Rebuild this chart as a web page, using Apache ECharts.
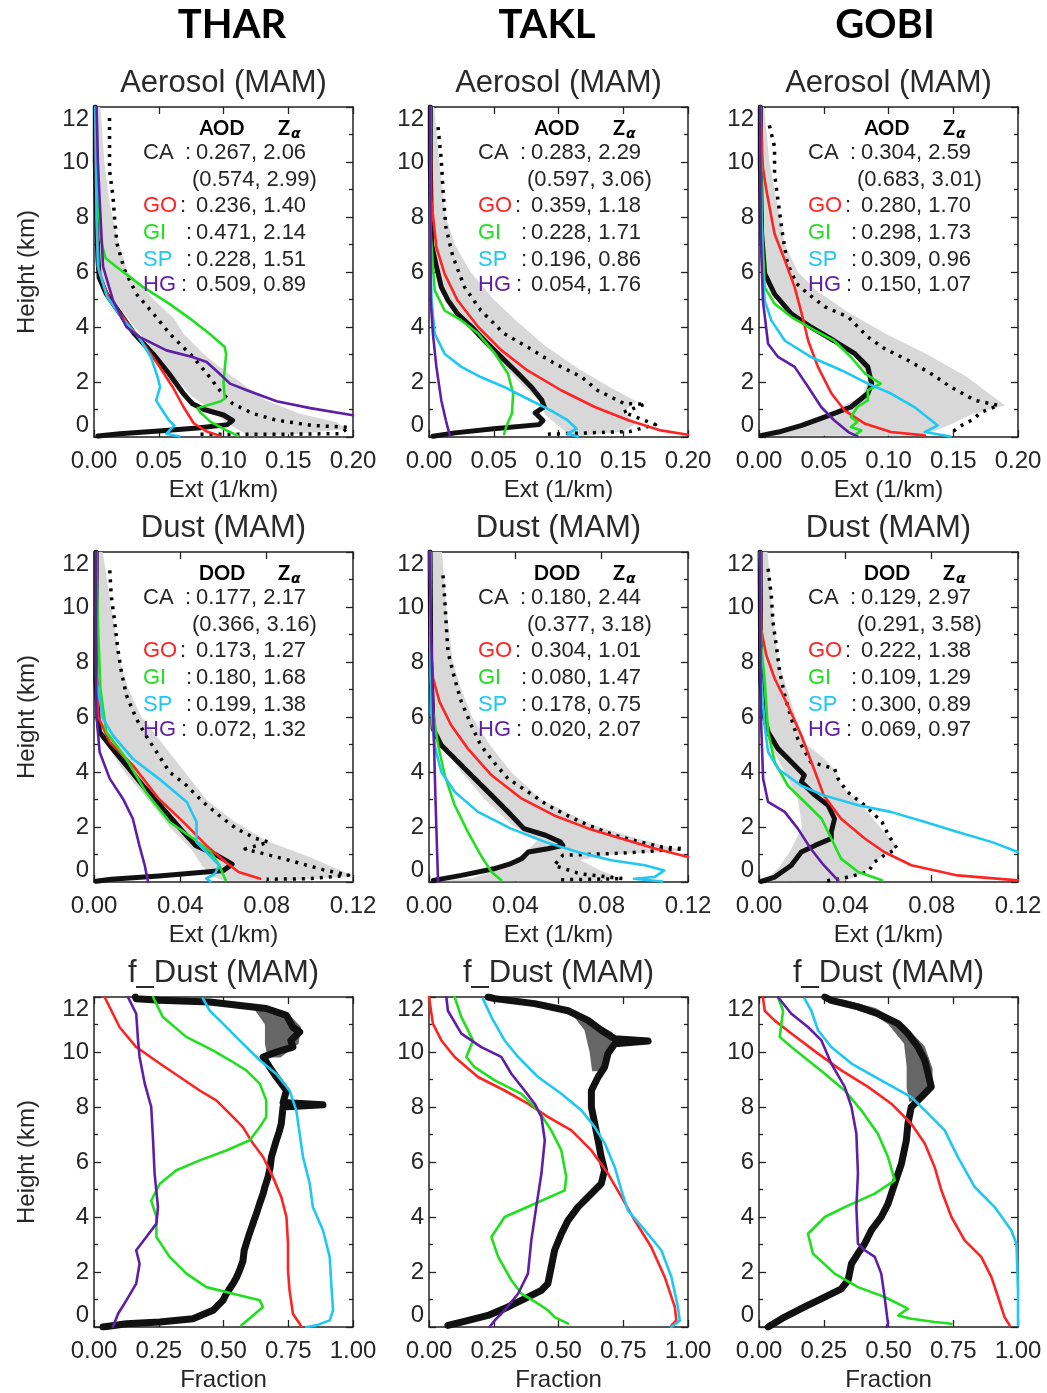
<!DOCTYPE html>
<html><head><meta charset="utf-8">
<script src="https://cdn.jsdelivr.net/npm/echarts@6/dist/echarts.min.js"></script>
<style>html,body{margin:0;padding:0;background:#fff}#c{width:1047px;height:1393px}</style>
</head><body><div id="c"></div>
<script>
// ---------- labels / ticks ----------
const SITES = ['THAR', 'TAKL', 'GOBI'];
const ROW_TITLES = ['Aerosol (MAM)', 'Dust (MAM)', 'f_Dust (MAM)'];
const X_NAMES = ['Ext (1/km)', 'Ext (1/km)', 'Fraction'];
const X_MAX = [0.2, 0.12, 1.0];
const X_INT = [0.05, 0.04, 0.25];
const Y_MIN = 0, Y_MAX = 12, Y_INT = 2;
const OD_LABELS = ['AOD', 'DOD'];
const ROW_NAMES = ['CA', '', 'GO', 'GI', 'SP', 'HG'];

// ---------- THAR aerosol ----------
const THAR_AER_CA = [[0.001,12],[0.001,10],[0.002,8],[0.003,6.5],[0.004,5.8],[0.0095,5.2],[0.020,4.5],[0.031,3.76],[0.0455,3.03],[0.058,2.3],[0.069,1.58],[0.076,1.21],[0.085,1.0],[0.1,0.8],[0.107,0.6],[0.103,0.45],[0.08,0.33],[0.05,0.22],[0.02,0.12],[0.003,0.04]];
const THAR_AER_GO = [[0.001,12],[0.002,8],[0.004,6],[0.012,5],[0.025,4.2],[0.038,3.4],[0.05,2.6],[0.061,1.8],[0.069,1.1],[0.077,0.5],[0.087,0.2],[0.097,0.05]];
const THAR_AER_GI = [[0.002,12],[0.003,9],[0.005,7.2],[0.009,6.5],[0.017,6.2],[0.038,5.45],[0.058,4.85],[0.076,4.24],[0.089,3.76],[0.101,3.27],[0.102,3.0],[0.1,2.0],[0.101,1.4],[0.098,1.3],[0.08,1.05],[0.082,0.9],[0.09,0.55],[0.102,0.25],[0.111,0.05]];
const THAR_AER_SP = [[0.001,12],[0.002,8],[0.003,6.2],[0.01,5.1],[0.022,4.3],[0.035,3.6],[0.044,2.9],[0.049,2.2],[0.051,1.82],[0.048,1.33],[0.051,1.1],[0.058,0.6],[0.062,0.42],[0.056,0.12],[0.066,0.02]];
const THAR_AER_HG = [[0.002,12],[0.003,10],[0.0044,8.6],[0.007,6.2],[0.0147,4.97],[0.025,4.0],[0.035,3.64],[0.056,3.15],[0.076,2.91],[0.087,2.73],[0.097,2.3],[0.105,1.94],[0.118,1.7],[0.141,1.3],[0.167,1.05],[0.2,0.79]];
const THAR_AER_DOT = [[0.012,11.6],[0.012,10.55],[0.012,9.7],[0.0147,8.73],[0.016,7.88],[0.0178,7.03],[0.0237,6.06],[0.0327,5.21],[0.0481,4.36],[0.0584,3.76],[0.0765,2.91],[0.0893,2.18],[0.097,1.7],[0.107,1.21],[0.123,0.85],[0.141,0.61],[0.169,0.42],[0.197,0.35],[0.19,0.12],[0.14,0.1],[0.08,0.1]];
const THAR_AER_HI = [[0.005,12],[0.008,10],[0.012,8.5],[0.018,7.2],[0.026,6.0],[0.046,5.0],[0.062,4.3],[0.069,3.76],[0.085,3.0],[0.097,2.55],[0.118,1.82],[0.133,1.33],[0.159,0.85],[0.187,0.55],[0.195,0.3],[0.16,0.12],[0.12,0.04]];
const THAR_AER_LO = [[0.001,12],[0.002,8],[0.003,6.5],[0.006,5.8],[0.015,5],[0.028,4.2],[0.045,3.2],[0.06,2.3],[0.075,1.5],[0.09,1.0],[0.1,0.6],[0.11,0.3],[0.12,0.05]];
const THAR_AER_TXT = ['0.267, 2.06','(0.574, 2.99)','0.236, 1.40','0.471, 2.14','0.228, 1.51','0.509, 0.89'];

// ---------- TAKL aerosol ----------
const TAKL_AER_CA = [[0.001,12],[0.001,10],[0.002,7.0],[0.0057,6.2],[0.0095,5.45],[0.0147,4.97],[0.022,4.48],[0.033,4.0],[0.043,3.5],[0.056,2.9],[0.069,2.3],[0.079,1.82],[0.087,1.35],[0.089,1.1],[0.082,0.88],[0.088,0.6],[0.085,0.45],[0.05,0.3],[0.02,0.15],[0.003,0.03]];
const TAKL_AER_GO = [[0.001,12],[0.0018,8.6],[0.0057,6.9],[0.012,5.94],[0.022,4.97],[0.038,4.0],[0.056,3.15],[0.076,2.42],[0.102,1.7],[0.128,1.09],[0.154,0.61],[0.179,0.24],[0.2,0.08]];
const TAKL_AER_GI = [[0.001,12],[0.001,9],[0.0013,7.4],[0.003,6.2],[0.0044,5.33],[0.012,4.6],[0.025,4.24],[0.038,3.76],[0.051,3.03],[0.061,2.3],[0.065,1.58],[0.064,0.85],[0.06,0.42],[0.058,0.1]];
const TAKL_AER_SP = [[0.001,12],[0.0013,6.2],[0.002,4.97],[0.0044,3.76],[0.012,3.03],[0.025,2.55],[0.04,2.18],[0.058,1.82],[0.076,1.39],[0.094,0.97],[0.107,0.61],[0.114,0.3],[0.107,0.12],[0.115,0.02]];
const TAKL_AER_HG = [[0.001,12],[0.0013,4.97],[0.003,3.76],[0.0057,2.55],[0.0095,1.33],[0.013,0.61],[0.016,0.06]];
const TAKL_AER_DOT = [[0.007,11.27],[0.0095,10.06],[0.011,8.85],[0.013,7.64],[0.0185,6.55],[0.0275,5.45],[0.04,4.6],[0.058,3.76],[0.076,3.27],[0.097,2.67],[0.118,2.18],[0.13,1.7],[0.151,1.21],[0.167,1.2],[0.15,0.9],[0.175,0.45],[0.155,0.2],[0.09,0.1]];
const TAKL_AER_HI = [[0.004,12],[0.008,10],[0.013,8],[0.02,7],[0.032,6],[0.05,5],[0.068,4.2],[0.09,3.3],[0.115,2.5],[0.14,1.8],[0.16,1.3],[0.15,0.9],[0.16,0.5],[0.15,0.2],[0.12,0.05]];
const TAKL_AER_LO = [[0.001,12],[0.002,8],[0.005,6],[0.012,5],[0.03,4],[0.05,3],[0.07,2],[0.085,1.3],[0.09,0.8],[0.1,0.4],[0.11,0.05]];
const TAKL_AER_TXT = ['0.283, 2.29','(0.597, 3.06)','0.359, 1.18','0.228, 1.71','0.196, 0.86','0.054, 1.76'];

// ---------- GOBI aerosol ----------
const GOBI_AER_CA = [[0.001,12],[0.001,10],[0.002,7.4],[0.0044,5.94],[0.012,5.2],[0.025,4.48],[0.04,4.0],[0.058,3.5],[0.074,3.03],[0.084,2.55],[0.087,1.94],[0.084,1.58],[0.071,1.09],[0.051,0.73],[0.033,0.42],[0.015,0.18],[0.002,0.06]];
const GOBI_AER_GO = [[0.001,12],[0.003,9.8],[0.0057,8.97],[0.012,7.39],[0.02,6.42],[0.0275,5.45],[0.033,4.48],[0.038,3.5],[0.0455,2.55],[0.056,1.58],[0.066,0.97],[0.082,0.48],[0.102,0.18],[0.128,0.06]];
const GOBI_AER_GI = [[0.001,12],[0.002,8],[0.0044,5.45],[0.012,4.85],[0.025,4.36],[0.043,3.88],[0.058,3.5],[0.071,2.91],[0.082,2.3],[0.094,1.94],[0.084,1.7],[0.084,1.33],[0.076,1.09],[0.071,0.73],[0.076,0.55],[0.071,0.36],[0.079,0.24],[0.074,0.06]];
const GOBI_AER_SP = [[0.001,12],[0.002,6.8],[0.0044,4.97],[0.0095,4.24],[0.02,3.5],[0.04,2.91],[0.064,2.42],[0.084,1.94],[0.102,1.58],[0.12,1.09],[0.138,0.42],[0.128,0.18],[0.148,0.02]];
const GOBI_AER_HG = [[0.001,12],[0.0013,7.4],[0.003,4.97],[0.007,3.39],[0.0147,2.91],[0.0275,2.55],[0.038,1.82],[0.048,1.09],[0.058,0.61],[0.069,0.18],[0.076,0.02]];
const GOBI_AER_DOT = [[0.008,11.33],[0.012,10.55],[0.012,9.58],[0.0147,8.6],[0.0185,7.27],[0.022,6.3],[0.029,5.58],[0.038,5.2],[0.051,4.73],[0.069,4.36],[0.084,3.64],[0.097,3.21],[0.115,2.79],[0.133,2.3],[0.148,1.82],[0.167,1.33],[0.185,1.15],[0.172,0.91],[0.164,0.61],[0.154,0.36],[0.148,0.12]];
const GOBI_AER_HI = [[0.004,12],[0.008,10],[0.012,9],[0.02,7],[0.03,6],[0.045,5.3],[0.07,4.5],[0.1,3.7],[0.13,3.0],[0.16,2.2],[0.18,1.5],[0.19,1.15],[0.165,0.85],[0.15,0.5],[0.135,0.2],[0.12,0.05]];
const GOBI_AER_LO = [[0.001,12],[0.003,6],[0.015,5],[0.04,4],[0.07,3.2],[0.085,2.2],[0.08,1.5],[0.06,1],[0.04,0.6],[0.02,0.3],[0.005,0.05]];
const GOBI_AER_TXT = ['0.304, 2.59','(0.683, 3.01)','0.280, 1.70','0.298, 1.73','0.309, 0.96','0.150, 1.07'];

// ---------- THAR dust ----------
const THAR_DST_CA = [[0.001,12],[0.001,10],[0.0008,7.4],[0.0019,5.94],[0.0026,5.45],[0.0073,4.97],[0.015,4.24],[0.0227,3.5],[0.032,2.67],[0.04,1.94],[0.047,1.33],[0.057,0.97],[0.064,0.65],[0.06,0.42],[0.03,0.22],[0.008,0.1],[0.001,0.03]];
const THAR_DST_GO = [[0.001,12],[0.001,8],[0.002,6],[0.0073,5.09],[0.018,4.24],[0.03,3.03],[0.043,2.06],[0.052,1.33],[0.061,0.73],[0.067,0.36],[0.077,0.12]];
const THAR_DST_GI = [[0.001,12],[0.002,9],[0.003,7],[0.0057,5.45],[0.015,4.48],[0.024,3.27],[0.035,2.18],[0.046,1.58],[0.054,1.09],[0.058,0.61],[0.061,0.06]];
const THAR_DST_SP = [[0.001,12],[0.001,7.4],[0.0042,5.94],[0.0088,5.33],[0.018,4.48],[0.03,3.76],[0.043,2.91],[0.0475,2.18],[0.0475,1.45],[0.052,1.09],[0.058,0.61],[0.056,0.3],[0.052,0.12],[0.054,0.02]];
const THAR_DST_HG = [[0.001,12],[0.001,6.2],[0.0026,4.73],[0.0073,3.76],[0.0134,3.03],[0.018,2.3],[0.021,1.33],[0.0235,0.61],[0.025,0.02]];
const THAR_DST_DOT = [[0.0073,11.33],[0.008,10.4],[0.0096,9.45],[0.011,8.48],[0.0127,7.64],[0.015,6.79],[0.0196,5.94],[0.024,5.33],[0.029,4.73],[0.035,4.0],[0.043,3.5],[0.0505,2.91],[0.058,2.42],[0.066,1.94],[0.075,1.58],[0.081,1.45],[0.07,1.2],[0.09,0.8],[0.106,0.45],[0.118,0.25],[0.1,0.12],[0.08,0.1]];
const THAR_DST_HI = [[0.004,12],[0.008,10],[0.012,8],[0.016,7],[0.022,6],[0.032,5],[0.042,4],[0.052,3],[0.065,2.2],[0.08,1.5],[0.1,0.9],[0.115,0.4],[0.12,0.2],[0.09,0.05]];
const THAR_DST_LO = [[0.001,12],[0.002,6],[0.006,5],[0.014,4],[0.025,3],[0.035,2],[0.045,1.2],[0.05,0.6],[0.055,0.2],[0.06,0.05]];
const THAR_DST_TXT = ['0.177, 2.17','(0.366, 3.16)','0.173, 1.27','0.180, 1.68','0.199, 1.38','0.072, 1.32'];

// ---------- TAKL dust ----------
const TAKL_DST_CA = [[0.0005,12],[0.0008,8],[0.0019,5.58],[0.0057,4.97],[0.012,4.48],[0.0196,3.88],[0.029,3.15],[0.0366,2.55],[0.044,1.94],[0.054,1.7],[0.061,1.45],[0.062,1.33],[0.055,1.21],[0.046,1.09],[0.043,0.85],[0.038,0.67],[0.03,0.48],[0.015,0.24],[0.002,0.06]];
const TAKL_DST_GO = [[0.0005,12],[0.0008,8.6],[0.0019,7.4],[0.0049,6.55],[0.0103,5.7],[0.018,4.85],[0.029,3.88],[0.043,3.03],[0.058,2.42],[0.074,1.94],[0.089,1.58],[0.105,1.21],[0.12,0.91]];
const TAKL_DST_GI = [[0.0005,12],[0.0008,7.4],[0.0019,6.2],[0.0042,4.97],[0.0073,3.88],[0.0119,2.79],[0.018,1.82],[0.024,0.97],[0.029,0.36],[0.0335,0.06]];
const TAKL_DST_SP = [[0.0005,12],[0.001,6.2],[0.0026,4.97],[0.0057,4.0],[0.012,3.27],[0.0227,2.55],[0.038,1.94],[0.054,1.45],[0.069,1.09],[0.0845,0.79],[0.1,0.61],[0.109,0.42],[0.1045,0.18],[0.095,0.12],[0.108,0.02]];
const TAKL_DST_HG = [[0.0003,12],[0.001,9],[0.002,6],[0.003,3],[0.004,0.5],[0.0042,0.02]];
const TAKL_DST_DOT = [[0.0065,11.15],[0.0073,10.3],[0.008,9.33],[0.0088,8.36],[0.0119,7.39],[0.015,6.55],[0.0196,5.7],[0.024,4.97],[0.03,4.36],[0.0366,3.76],[0.046,3.27],[0.055,2.79],[0.064,2.42],[0.074,2.06],[0.086,1.7],[0.098,1.45],[0.108,1.27],[0.118,1.21],[0.09,1.05],[0.062,0.97],[0.058,0.6],[0.07,0.3],[0.09,0.12],[0.06,0.08]];
const TAKL_DST_HI = [[0.006,12],[0.008,10],[0.011,8],[0.015,7],[0.02,6],[0.028,5],[0.038,4],[0.052,3],[0.075,2.1],[0.1,1.5],[0.118,1.15],[0.085,1.0],[0.07,0.8],[0.08,0.4],[0.09,0.1],[0.07,0.03]];
const TAKL_DST_LO = [[0.001,12],[0.002,6],[0.006,5],[0.015,4],[0.026,3],[0.038,2.1],[0.05,1.5],[0.045,1.1],[0.04,0.8],[0.03,0.4],[0.02,0.15],[0.005,0.03]];
const TAKL_DST_TXT = ['0.180, 2.44','(0.377, 3.18)','0.304, 1.01','0.080, 1.47','0.178, 0.75','0.020, 2.07'];

// ---------- GOBI dust ----------
const GOBI_DST_CA = [[0.0005,12],[0.0008,7.4],[0.0019,6.2],[0.0042,5.45],[0.0088,4.85],[0.015,4.36],[0.021,3.88],[0.0196,3.64],[0.026,3.15],[0.032,2.79],[0.035,2.3],[0.0335,1.82],[0.0335,1.58],[0.026,1.33],[0.0196,1.09],[0.015,0.61],[0.0073,0.18],[0.001,0.02]];
const GOBI_DST_GO = [[0.0005,12],[0.001,9.2],[0.0034,8.24],[0.0073,7.39],[0.0134,6.42],[0.0196,5.33],[0.026,4.0],[0.03,3.15],[0.038,2.3],[0.049,1.58],[0.058,1.09],[0.0706,0.61],[0.092,0.24],[0.12,0.06]];
const GOBI_DST_GI = [[0.0005,12],[0.001,8.6],[0.0026,7.4],[0.0042,5.45],[0.0073,4.36],[0.0134,3.5],[0.0227,2.79],[0.029,2.3],[0.0335,1.58],[0.038,0.85],[0.046,0.36],[0.057,0.06]];
const GOBI_DST_SP = [[0.0005,12],[0.001,7.4],[0.0026,5.7],[0.0042,4.73],[0.0088,4.12],[0.0196,3.5],[0.03,3.15],[0.046,2.79],[0.061,2.55],[0.077,2.18],[0.092,1.82],[0.108,1.45],[0.12,1.09]];
const GOBI_DST_HG = [[0.0005,12],[0.0008,6.2],[0.0019,3.76],[0.0042,2.91],[0.0119,2.55],[0.018,1.94],[0.024,1.21],[0.03,0.61],[0.0366,0.06]];
const GOBI_DST_DOT = [[0.0042,11.39],[0.0057,10.42],[0.0065,9.45],[0.008,8.6],[0.0096,7.64],[0.0119,6.79],[0.015,5.94],[0.018,5.2],[0.024,4.36],[0.035,4.12],[0.0366,3.76],[0.041,3.27],[0.049,2.79],[0.057,2.18],[0.06,1.7],[0.064,1.21],[0.058,0.97],[0.0536,0.73],[0.0505,0.36],[0.038,0.12],[0.03,0.03]];
const GOBI_DST_HI = [[0.004,12],[0.006,10],[0.009,8],[0.013,7],[0.017,6],[0.022,5],[0.03,4.5],[0.036,4.0],[0.038,3.5],[0.045,3],[0.052,2.4],[0.058,1.8],[0.064,1.3],[0.058,1.0],[0.052,0.6],[0.048,0.3],[0.04,0.05]];
const GOBI_DST_LO = [[0.0005,12],[0.002,6],[0.005,5],[0.012,4],[0.018,3],[0.02,2],[0.015,1.2],[0.01,0.6],[0.005,0.2],[0.002,0.03]];
const GOBI_DST_TXT = ['0.129, 2.97','(0.291, 3.58)','0.222, 1.38','0.109, 1.29','0.300, 0.89','0.069, 0.97'];

// ---------- THAR f_dust ----------
const THAR_FD_CA = [[0.035,0.0],[0.125,0.12],[0.254,0.18],[0.382,0.3],[0.46,0.61],[0.498,0.97],[0.511,1.21],[0.537,1.58],[0.55,1.8],[0.562,2.06],[0.575,2.4],[0.58,2.79],[0.59,3.1],[0.6,3.39],[0.615,3.8],[0.627,4.12],[0.64,4.5],[0.653,4.85],[0.66,5.1],[0.672,5.45],[0.68,5.8],[0.685,6.18],[0.695,6.5],[0.704,6.79],[0.715,7.1],[0.723,7.39],[0.73,8.0],[0.884,8.08],[0.73,8.16],[0.743,8.6],[0.704,9.09],[0.678,9.45],[0.653,9.82],[0.704,10.0],[0.768,10.18],[0.76,10.42],[0.794,10.73],[0.768,10.9],[0.743,11.33],[0.665,11.58],[0.447,11.82],[0.254,11.88],[0.163,11.94],[0.16,12]];
const THAR_FD_GO = [[0.041,12],[0.073,11.39],[0.099,10.9],[0.163,10.18],[0.254,9.58],[0.331,9.09],[0.408,8.6],[0.472,8.24],[0.524,7.76],[0.575,7.27],[0.614,6.67],[0.653,6.18],[0.691,5.45],[0.723,4.73],[0.743,4.0],[0.749,3.03],[0.749,2.06],[0.755,1.33],[0.768,0.48],[0.794,0.12],[0.8,0.02]];
const THAR_FD_GI = [[0.228,12],[0.266,11.27],[0.356,10.55],[0.459,10.06],[0.525,9.7],[0.588,9.33],[0.64,8.85],[0.665,8.24],[0.665,7.64],[0.64,7.27],[0.601,6.79],[0.511,6.42],[0.408,6.06],[0.318,5.7],[0.254,5.21],[0.221,4.6],[0.241,4.0],[0.241,3.27],[0.292,2.55],[0.357,1.94],[0.434,1.45],[0.537,1.21],[0.64,0.97],[0.652,0.73],[0.614,0.42],[0.569,0.06]];
const THAR_FD_SP = [[0.421,11.94],[0.447,11.5],[0.498,11.03],[0.562,10.42],[0.64,9.7],[0.704,9.2],[0.755,8.6],[0.781,7.88],[0.794,7.03],[0.807,6.18],[0.833,5.21],[0.845,4.36],[0.884,3.52],[0.91,2.55],[0.916,1.58],[0.923,0.61],[0.91,0.24],[0.858,0.06],[0.82,0.0]];
const THAR_FD_HG = [[0.131,12],[0.163,11.39],[0.17,10.42],[0.176,9.82],[0.196,8.85],[0.221,8.0],[0.228,6.79],[0.234,5.58],[0.247,4.36],[0.241,3.76],[0.202,3.27],[0.163,2.79],[0.176,2.3],[0.163,1.58],[0.125,0.97],[0.093,0.48],[0.073,0.0]];
const THAR_FD_HI = [[0.6,11.7],[0.75,11.4],[0.80,10.9],[0.79,10.3],[0.72,9.8]];
const THAR_FD_LO = [[0.5,11.85],[0.62,11.55],[0.66,11.0],[0.66,10.3],[0.67,9.8]];

// ---------- TAKL f_dust ----------
const TAKL_FD_CA = [[0.073,0.06],[0.125,0.18],[0.228,0.42],[0.305,0.73],[0.382,1.09],[0.434,1.33],[0.459,1.58],[0.472,2.18],[0.485,2.79],[0.511,3.39],[0.537,3.88],[0.575,4.36],[0.614,4.73],[0.665,5.21],[0.678,5.7],[0.665,6.18],[0.653,6.79],[0.64,7.39],[0.627,8.0],[0.627,8.6],[0.653,9.09],[0.678,9.45],[0.691,9.94],[0.717,10.3],[0.846,10.4],[0.717,10.48],[0.665,10.79],[0.614,11.15],[0.537,11.5],[0.408,11.76],[0.254,11.94],[0.228,12]];
const TAKL_FD_GO = [[0,12],[0.015,11.03],[0.048,10.42],[0.099,9.82],[0.189,9.09],[0.292,8.6],[0.382,8.12],[0.459,7.64],[0.55,7.15],[0.627,6.42],[0.691,5.58],[0.743,4.73],[0.794,3.88],[0.858,2.91],[0.91,1.82],[0.949,0.73],[0.955,0.24],[0.936,0.06]];
const TAKL_FD_GI = [[0.099,12],[0.125,11.27],[0.17,10.42],[0.144,9.82],[0.176,9.45],[0.254,8.97],[0.357,8.48],[0.421,7.88],[0.472,7.15],[0.511,6.42],[0.53,5.45],[0.524,4.97],[0.408,4.48],[0.292,4.0],[0.241,3.27],[0.267,2.55],[0.318,1.7],[0.357,1.21],[0.421,0.85],[0.459,0.61],[0.485,0.36],[0.537,0.12]];
const TAKL_FD_SP = [[0.208,11.94],[0.241,11.27],[0.292,10.42],[0.344,9.82],[0.421,9.09],[0.511,8.48],[0.588,7.88],[0.64,7.27],[0.679,6.67],[0.717,5.82],[0.743,4.97],[0.768,4.24],[0.833,3.52],[0.897,2.79],[0.936,1.82],[0.961,0.73],[0.968,0.24],[0.936,0.0]];
const TAKL_FD_HG = [[0.067,12],[0.073,11.5],[0.125,10.67],[0.202,10.18],[0.279,9.82],[0.318,9.21],[0.369,8.6],[0.408,8.12],[0.434,7.64],[0.447,6.79],[0.434,5.58],[0.414,4.36],[0.395,3.15],[0.382,1.94],[0.344,1.21],[0.292,0.61],[0.254,0.24],[0.234,0.0]];
const TAKL_FD_HI = [[0.45,11.8],[0.6,11.3],[0.71,10.7],[0.7,10.0],[0.68,9.3]];
const TAKL_FD_LO = [[0.35,11.85],[0.55,11.4],[0.6,10.8],[0.62,10.0],[0.63,9.3]];

// ---------- GOBI f_dust ----------
const GOBI_FD_CA = [[0.035,0.0],[0.099,0.36],[0.176,0.73],[0.254,1.09],[0.318,1.39],[0.344,1.7],[0.357,2.3],[0.382,2.67],[0.408,3.03],[0.434,3.52],[0.472,4.0],[0.498,4.48],[0.524,5.21],[0.55,5.94],[0.569,6.79],[0.575,7.39],[0.588,8.0],[0.627,8.36],[0.665,8.73],[0.653,9.21],[0.64,9.7],[0.614,10.18],[0.575,10.67],[0.537,11.03],[0.459,11.39],[0.382,11.64],[0.279,11.88],[0.254,12]];
const GOBI_FD_GO = [[0.015,12],[0.022,11.5],[0.06,11.15],[0.125,10.67],[0.228,9.94],[0.318,9.33],[0.421,8.73],[0.511,8.12],[0.588,7.39],[0.64,6.67],[0.678,5.82],[0.704,4.97],[0.743,4.0],[0.794,3.15],[0.858,2.55],[0.897,1.82],[0.923,1.09],[0.948,0.36],[0.968,0.06]];
const GOBI_FD_GI = [[0.073,12],[0.093,11.5],[0.08,10.55],[0.125,10.18],[0.189,9.7],[0.254,9.21],[0.331,8.6],[0.395,7.88],[0.459,7.03],[0.498,6.18],[0.524,5.33],[0.447,4.85],[0.331,4.36],[0.254,4.0],[0.189,3.39],[0.208,2.67],[0.292,1.94],[0.382,1.45],[0.485,1.09],[0.575,0.67],[0.537,0.42],[0.588,0.3],[0.678,0.18],[0.743,0.12]];
const GOBI_FD_SP = [[0.176,11.94],[0.202,11.5],[0.228,10.79],[0.279,10.18],[0.357,9.58],[0.472,8.97],[0.588,8.36],[0.653,7.76],[0.717,7.15],[0.768,6.18],[0.833,5.09],[0.91,4.36],[0.974,3.52],[0.994,3.03],[1.0,1.33],[1.0,0.06]];
const GOBI_FD_HG = [[0.073,12],[0.125,11.39],[0.189,10.91],[0.241,10.42],[0.279,9.58],[0.331,8.73],[0.357,8.0],[0.376,7.03],[0.382,5.58],[0.376,4.36],[0.382,3.03],[0.408,2.79],[0.447,2.55],[0.472,1.94],[0.485,1.09],[0.498,0.12],[0.492,0.0]];
const GOBI_FD_HI = [[0.33,11.9],[0.45,11.6],[0.56,11.0],[0.64,10.2],[0.67,9.4],[0.67,8.7],[0.6,8.2]];
const GOBI_FD_LO = [[0.3,11.95],[0.42,11.5],[0.5,11.0],[0.56,10.3],[0.57,9.5],[0.57,8.7],[0.58,8.2]];

// ---------- styling ----------
const C_GO = '#ff2424', C_GI = '#1fe01f', C_SP = '#1ec8f2', C_HG = '#5e1fa6', C_TXT = '#262626';
const NAME_COLORS = [C_TXT, C_TXT, C_GO, C_GI, C_SP, C_HG];
const COLON_X = [91, 0, 86, 92, 92, 87];
const ROW_DY = [46, 73, 99, 126, 153, 178];
const GL = [94, 429, 759], GT = [107, 552, 997], GW = 259, GH = 330;
const FF = '"Liberation Sans", Arial, sans-serif';

const PANELS = [
  {r:0,c:0,ca:THAR_AER_CA,go:THAR_AER_GO,gi:THAR_AER_GI,sp:THAR_AER_SP,hg:THAR_AER_HG,dot:THAR_AER_DOT,hi:THAR_AER_HI,lo:THAR_AER_LO,txt:THAR_AER_TXT},
  {r:0,c:1,ca:TAKL_AER_CA,go:TAKL_AER_GO,gi:TAKL_AER_GI,sp:TAKL_AER_SP,hg:TAKL_AER_HG,dot:TAKL_AER_DOT,hi:TAKL_AER_HI,lo:TAKL_AER_LO,txt:TAKL_AER_TXT},
  {r:0,c:2,ca:GOBI_AER_CA,go:GOBI_AER_GO,gi:GOBI_AER_GI,sp:GOBI_AER_SP,hg:GOBI_AER_HG,dot:GOBI_AER_DOT,hi:GOBI_AER_HI,lo:GOBI_AER_LO,txt:GOBI_AER_TXT},
  {r:1,c:0,ca:THAR_DST_CA,go:THAR_DST_GO,gi:THAR_DST_GI,sp:THAR_DST_SP,hg:THAR_DST_HG,dot:THAR_DST_DOT,hi:THAR_DST_HI,lo:THAR_DST_LO,txt:THAR_DST_TXT},
  {r:1,c:1,ca:TAKL_DST_CA,go:TAKL_DST_GO,gi:TAKL_DST_GI,sp:TAKL_DST_SP,hg:TAKL_DST_HG,dot:TAKL_DST_DOT,hi:TAKL_DST_HI,lo:TAKL_DST_LO,txt:TAKL_DST_TXT},
  {r:1,c:2,ca:GOBI_DST_CA,go:GOBI_DST_GO,gi:GOBI_DST_GI,sp:GOBI_DST_SP,hg:GOBI_DST_HG,dot:GOBI_DST_DOT,hi:GOBI_DST_HI,lo:GOBI_DST_LO,txt:GOBI_DST_TXT},
  {r:2,c:0,ca:THAR_FD_CA,go:THAR_FD_GO,gi:THAR_FD_GI,sp:THAR_FD_SP,hg:THAR_FD_HG,hi:THAR_FD_HI,lo:THAR_FD_LO},
  {r:2,c:1,ca:TAKL_FD_CA,go:TAKL_FD_GO,gi:TAKL_FD_GI,sp:TAKL_FD_SP,hg:TAKL_FD_HG,hi:TAKL_FD_HI,lo:TAKL_FD_LO},
  {r:2,c:2,ca:GOBI_FD_CA,go:GOBI_FD_GO,gi:GOBI_FD_GI,sp:GOBI_FD_SP,hg:GOBI_FD_HG,hi:GOBI_FD_HI,lo:GOBI_FD_LO}
];

const grid = [], xAxis = [], yAxis = [], series = [], graphic = [];
const axisCol = '#222';

function bandSeries(pts, i, color) {
  return {
    type: 'custom', xAxisIndex: 2*i, yAxisIndex: 2*i, clip: true, silent: true, z: 1,
    data: pts, encode: {x: 0, y: 1},
    renderItem: function (params, api) {
      if (params.dataIndex !== 0) return null;
      return {type: 'polygon', shape: {points: pts.map(function (p) { return api.coord(p); })},
              style: {fill: color, stroke: null}};
    }
  };
}
function lineSeries(data, i, color, width, z, dash) {
  return {
    type: 'line', xAxisIndex: 2*i, yAxisIndex: 2*i, data: data, symbol: 'none', showSymbol: false,
    clip: true, silent: true, z: z,
    lineStyle: {color: color, width: width, type: dash || 'solid', cap: dash ? 'butt' : 'round', join: 'round'}
  };
}
function txt(x, y, s, fill, font, align) {
  return {type: 'text', x: x, y: y, z: 100,
    style: {text: s, fill: fill, font: font, align: align, verticalAlign: 'middle',
            textAlign: align, textVerticalAlign: 'middle'}};
}

PANELS.forEach(function (p, i) {
  const L = GL[p.c], T = GT[p.r];
  grid.push({left: L, top: T, width: GW, height: GH, show: false, containLabel: false});
  const tickStyle = {color: axisCol, width: 1.3};
  xAxis.push({
    gridIndex: i, type: 'value', position: 'bottom', min: 0, max: X_MAX[p.r], interval: X_INT[p.r],
    axisLine: {show: true, onZero: false, lineStyle: {color: axisCol, width: 1.5}},
    axisTick: {show: true, inside: true, length: 7, lineStyle: tickStyle},
    axisLabel: {show: true, fontSize: 24, fontFamily: FF, color: C_TXT, margin: 12,
                formatter: function (v) { return v.toFixed(2); }},
    splitLine: {show: false},
    name: X_NAMES[p.r], nameLocation: 'middle', nameGap: 41,
    nameTextStyle: {fontSize: 24, fontFamily: FF, color: C_TXT}
  });
  xAxis.push({
    gridIndex: i, type: 'value', position: 'top', min: 0, max: X_MAX[p.r], interval: X_INT[p.r],
    axisLine: {show: true, onZero: false, lineStyle: {color: axisCol, width: 1.5}},
    axisTick: {show: true, inside: true, length: 7, lineStyle: tickStyle},
    axisLabel: {show: false}, splitLine: {show: false}
  });
  yAxis.push({
    gridIndex: i, type: 'value', position: 'left', min: Y_MIN, max: Y_MAX, interval: Y_INT,
    axisLine: {show: true, onZero: false, lineStyle: {color: axisCol, width: 1.5}},
    axisTick: {show: true, inside: true, length: 7, lineStyle: tickStyle},
    minorTick: {show: true, splitNumber: 2, length: 4, lineStyle: tickStyle},
    axisLabel: {show: true, fontSize: 24, fontFamily: FF, color: C_TXT, margin: 5,
                verticalAlignMinLabel: 'bottom', verticalAlignMaxLabel: 'top'},
    splitLine: {show: false},
    name: p.c === 0 ? 'Height (km)' : '', nameLocation: 'middle', nameGap: 55,
    nameTextStyle: {fontSize: 24, fontFamily: FF, color: C_TXT}
  });
  yAxis.push({
    gridIndex: i, type: 'value', position: 'right', min: Y_MIN, max: Y_MAX, interval: Y_INT,
    axisLine: {show: true, onZero: false, lineStyle: {color: axisCol, width: 1.5}},
    axisTick: {show: true, inside: true, length: 7, lineStyle: tickStyle},
    minorTick: {show: true, splitNumber: 2, length: 4, lineStyle: tickStyle},
    axisLabel: {show: false}, splitLine: {show: false}
  });

  const poly = p.hi.concat(p.lo.slice().reverse());
  series.push(bandSeries(poly, i, p.r === 2 ? '#666666' : '#d8d8d8'));
  if (p.dot) series.push(lineSeries(p.dot, i, '#000', 3.5, 2, [3, 6]));
  series.push(lineSeries(p.ca, i, '#111', p.r === 2 ? 7 : 5, 3));
  series.push(lineSeries(p.go, i, C_GO, 2.6, 4));
  series.push(lineSeries(p.gi, i, C_GI, 2.6, 4));
  series.push(lineSeries(p.sp, i, C_SP, 2.6, 4));
  series.push(lineSeries(p.hg, i, C_HG, 2.6, 4));

  if (p.txt) {
    const bold = 'bold 20px Lato, "Liberation Sans", sans-serif';
    graphic.push(txt(L + 128, T + 22, OD_LABELS[p.r], '#000', bold, 'center'));
    graphic.push(txt(L + 184, T + 22, 'Z', '#000', bold, 'left'));
    graphic.push(txt(L + 197, T + 27, 'α', '#000', 'italic bold 14px "DejaVu Sans", sans-serif', 'left'));
    for (let k = 0; k < 6; k++) {
      const y = T + ROW_DY[k];
      if (ROW_NAMES[k]) {
        graphic.push(txt(L + 49, y, ROW_NAMES[k], NAME_COLORS[k], '22px ' + FF, 'left'));
        graphic.push(txt(L + COLON_X[k], y, ':', C_TXT, '22px ' + FF, 'left'));
      }
      graphic.push(txt(L + (k === 1 ? 98 : 102), y, p.txt[k], C_TXT, '22px ' + FF, 'left'));
    }
  }
});

const HEAD_X = [232, 547, 885];
SITES.forEach(function (s, c) {
  graphic.push(txt(HEAD_X[c], 25, s, '#000', 'bold 40px Lato, "Liberation Sans", sans-serif', 'center'));
});
const TITLE_Y = [83, 528, 973];
for (let r = 0; r < 3; r++) {
  for (let c = 0; c < 3; c++) {
    graphic.push(txt(GL[c] + GW / 2, TITLE_Y[r], ROW_TITLES[r], '#2a2a2a', '31px ' + FF, 'center'));
  }
}

const chart = echarts.init(document.getElementById('c'), null, {renderer: 'canvas', width: 1047, height: 1393});
chart.setOption({
  animation: false,
  backgroundColor: '#fff',
  grid: grid, xAxis: xAxis, yAxis: yAxis, series: series, graphic: graphic
});
</script>
</body></html>
